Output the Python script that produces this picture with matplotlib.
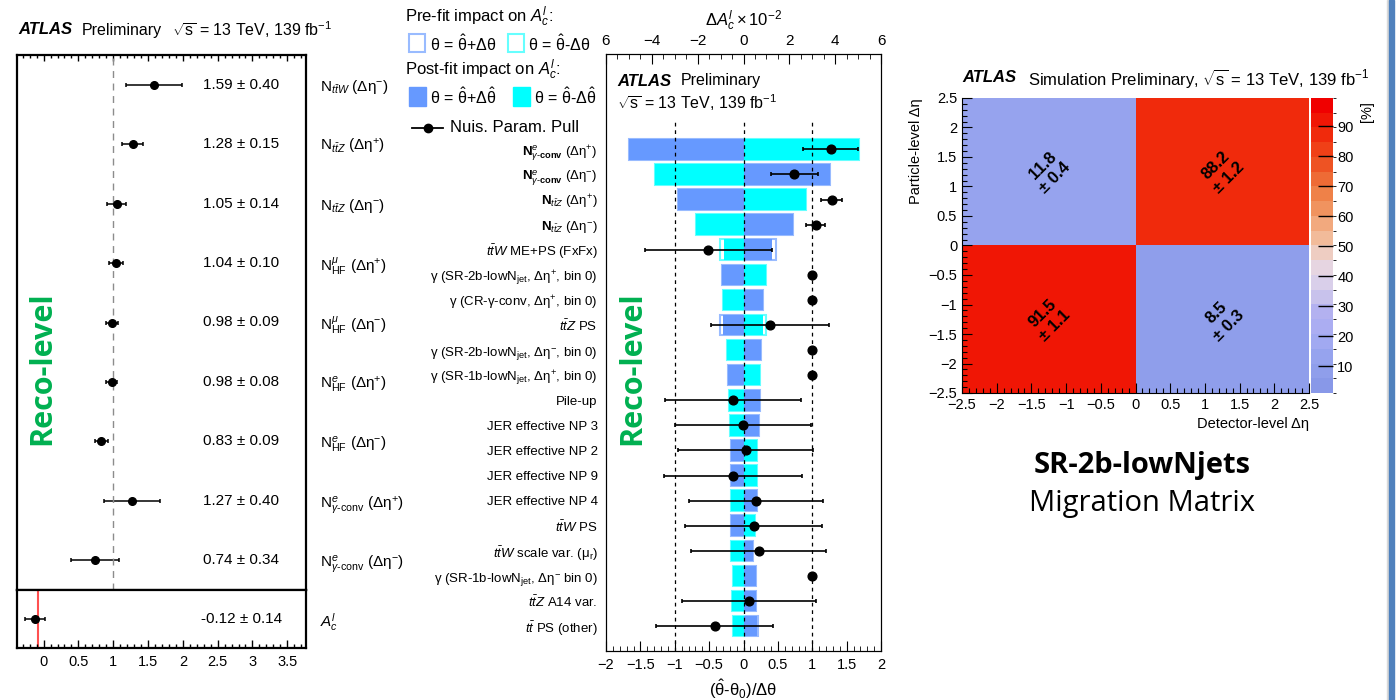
import numpy as np
import matplotlib
matplotlib.use('Agg')
import matplotlib.pyplot as plt
from matplotlib.colors import LinearSegmentedColormap, BoundaryNorm
from matplotlib.patches import Rectangle
from matplotlib.ticker import MultipleLocator, FuncFormatter

plt.rcParams['font.family'] = ['Liberation Sans', 'DejaVu Sans']
plt.rcParams['mathtext.fontset'] = 'custom'
plt.rcParams['mathtext.rm'] = 'Liberation Sans'
plt.rcParams['mathtext.it'] = 'Liberation Sans:italic'
plt.rcParams['mathtext.bf'] = 'Liberation Sans:bold'
plt.rcParams['mathtext.sf'] = 'Liberation Sans'

## Data

# left panel: normalisation factors + A_c
nf_labels = [r'N$_{t\bar{t}W}$ (Δη$^{-}$)',
             r'N$_{t\bar{t}Z}$ (Δη$^{+}$)',
             r'N$_{t\bar{t}Z}$ (Δη$^{-}$)',
             r'N$^{\mu}_{\rm HF}$ (Δη$^{+}$)',
             r'N$^{\mu}_{\rm HF}$ (Δη$^{-}$)',
             r'N$^{e}_{\rm HF}$ (Δη$^{+}$)',
             r'N$^{e}_{\rm HF}$ (Δη$^{-}$)',
             r'N$^{e}_{\gamma\text{-}\rm conv}$ (Δη$^{+}$)',
             r'N$^{e}_{\gamma\text{-}\rm conv}$ (Δη$^{-}$)']
nf_vals = [1.59, 1.28, 1.05, 1.04, 0.98, 0.98, 0.83, 1.27, 0.74]
nf_errs = [0.40, 0.15, 0.14, 0.10, 0.09, 0.08, 0.09, 0.40, 0.34]
ac_label = r'$A^{l}_{c}$'
ac_val = -0.12
ac_err = 0.14
ac_sm = -0.084

# middle panel: ranking of nuisance parameters
np_labels = [r'$\mathbf{N}^{e}_{\gamma\text{-}\mathbf{conv}}$ (Δη$^{+}$)',
             r'$\mathbf{N}^{e}_{\gamma\text{-}\mathbf{conv}}$ (Δη$^{-}$)',
             r'$\mathbf{N}_{t\bar{t}Z}$ (Δη$^{+}$)',
             r'$\mathbf{N}_{t\bar{t}Z}$ (Δη$^{-}$)',
             r'$t\bar{t}W$ ME+PS (FxFx)',
             r'γ (SR-2b-lowN$_{\rm jet}$, Δη$^{+}$, bin 0)',
             r'γ (CR-γ-conv, Δη$^{+}$, bin 0)',
             r'$t\bar{t}Z$ PS',
             r'γ (SR-2b-lowN$_{\rm jet}$, Δη$^{-}$, bin 0)',
             r'γ (SR-1b-lowN$_{\rm jet}$, Δη$^{+}$, bin 0)',
             'Pile-up',
             'JER effective NP 3',
             'JER effective NP 2',
             'JER effective NP 9',
             'JER effective NP 4',
             r'$t\bar{t}W$ PS',
             r'$t\bar{t}W$ scale var. (μ$_{\rm r}$)',
             r'γ (SR-1b-lowN$_{\rm jet}$, Δη$^{-}$ bin 0)',
             r'$t\bar{t}Z$ A14 var.',
             r'$t\bar{t}$ PS (other)']
pull = [1.27, 0.74, 1.28, 1.05, -0.51, 1.0, 1.0, 0.39, 1.0, 1.0,
        -0.15, -0.01, 0.03, -0.155, 0.185, 0.146, 0.22, 1.0, 0.08, -0.42]
pull_err = [0.40, 0.34, 0.15, 0.14, 0.92, 0.02, 0.02, 0.86, 0.02, 0.02,
            0.99, 0.99, 0.985, 1.0, 0.975, 0.99, 0.98, 0.02, 0.97, 0.855]
# impacts on A_c in units of 1e-2
post_up = [-5.0, 3.78, -2.85, 2.16, 1.25, -0.92, 0.86, -0.88, 0.77, -0.66,
           0.70, 0.66, -0.53, -0.53, 0.60, -0.53, 0.41, 0.54, 0.54, 0.57]
post_down = [5.05, -3.85, 2.74, -2.07, -0.84, 0.96, -0.88, 0.85, -0.73, 0.71,
             -0.64, -0.57, 0.61, 0.60, -0.53, 0.51, -0.53, -0.48, -0.51, -0.44]
pre_up = [-5.0, 3.78, -2.85, 2.16, 1.43, -0.92, 0.86, -1.04, 0.77, -0.66,
          0.70, 0.66, -0.53, -0.53, 0.60, -0.53, 0.41, 0.54, 0.54, 0.62]
pre_down = [5.05, -3.85, 2.74, -2.07, -1.04, 0.96, -0.88, 0.99, -0.73, 0.71,
            -0.64, -0.57, 0.61, 0.60, -0.53, 0.51, -0.53, -0.48, -0.51, -0.44]
imp_ticks = [-6, -4, -2, 0, 2, 4, 6]
imp_ticklabels = ['6', '\u22124', '\u22122', '0', '2', '4', '6']

# right panel: migration matrix, rows = particle level (-, +), cols = detector level (-, +)
eta_edges = [-2.5, 0.0, 2.5]
mig = [[91.5, 8.5], [11.8, 88.2]]
mig_err = [[1.1, 0.3], [0.4, 1.2]]

W, H = 1396, 700


def box(x0, y0, x1, y1):
    # pixel box -> figure fraction
    return [x0 / W, 1 - y1 / H, (x1 - x0) / W, (y1 - y0) / H]


def fmt(v, pos):
    return ('%g' % v).replace('-', '\u2212')


fig = plt.figure(figsize=(W / 100, H / 100), dpi=100)

# overlay for free text / legend
lay = fig.add_axes([0, 0, 1, 1])
lay.set_xlim(0, W)
lay.set_ylim(H, 0)
lay.axis('off')
lay.set_zorder(5)

## Left panel
ax1 = fig.add_axes(box(17, 55, 306, 590))
ax1b = fig.add_axes(box(17, 590, 306, 648), sharex=ax1)
y1 = np.arange(len(nf_vals))[::-1]
ax1.errorbar(nf_vals, y1, xerr=nf_errs, fmt='o', color='k', ms=5.5,
             elinewidth=1.1, capsize=1.6, capthick=1.1)
ax1.axvline(1, color='#8c8c8c', ls=(0, (5, 4)), lw=1)
ax1.set_xlim(-0.382, 3.769)
ax1.set_ylim(-0.5, len(nf_vals) - 0.5)
for y, v, e in zip(y1, nf_vals, nf_errs):
    ax1.text(2.84, y, '%.2f ± %.2f' % (v, e), ha='center', va='center', fontsize=11)
ax1.yaxis.tick_right()
ax1.set_yticks(y1)
ax1.set_yticklabels(nf_labels, fontsize=11)
ax1.tick_params(axis='y', length=0, pad=10)
ax1.xaxis.set_major_locator(MultipleLocator(0.5))
ax1.xaxis.set_minor_locator(MultipleLocator(0.1))
ax1.xaxis.set_major_formatter(FuncFormatter(fmt))
ax1.tick_params(axis='x', which='both', direction='in', top=True, bottom=False,
                labeltop=False, labelbottom=False, width=1)
ax1.tick_params(axis='x', which='major', length=4)
ax1.tick_params(axis='x', which='minor', length=2)

ax1b.errorbar([ac_val], [0], xerr=[ac_err], fmt='o', color='k', ms=5.5,
              elinewidth=1.1, capsize=1.6, capthick=1.1, zorder=3)
ax1b.axvline(ac_sm, color='#ff5050', lw=1.5, zorder=1)
ax1b.set_ylim(-0.5, 0.5)
ax1b.text(2.84, 0, '%.2f ± %.2f' % (ac_val, ac_err), ha='center', va='center', fontsize=11)
ax1b.yaxis.tick_right()
ax1b.set_yticks([0])
ax1b.set_yticklabels([ac_label], fontsize=11)
ax1b.tick_params(axis='y', length=0, pad=10)
ax1b.tick_params(axis='x', which='both', direction='in', top=False, bottom=True,
                 labelsize=10.5, width=1)
ax1b.tick_params(axis='x', which='major', length=6, pad=5)
ax1b.tick_params(axis='x', which='minor', length=3)
for a in (ax1, ax1b):
    for s in a.spines.values():
        s.set_linewidth(1.6)

## Middle panel (ranking)
axi = fig.add_axes(box(606, 54, 881, 651))
axp = axi.twiny()
yy = np.arange(len(pull))[::-1]
axi.barh(yy, pre_up, height=0.82, facecolor='white', edgecolor='#99bbff', lw=1.5)
axi.barh(yy, pre_down, height=0.82, facecolor='white', edgecolor='#66ffff', lw=1.5)
axi.barh(yy, post_up, height=0.82, color='#6699ff')
axi.barh(yy, post_down, height=0.82, color='#00ffff')
axi.set_xlim(-6, 6)
axi.set_ylim(-0.99, 22.8)
axi.set_xticks(imp_ticks)
axi.set_xticklabels(imp_ticklabels)
axi.xaxis.set_minor_locator(MultipleLocator(0.5))
axi.xaxis.set_ticks_position('top')
axi.xaxis.set_label_position('top')
axi.set_xlabel(r'$\Delta A^{l}_{c}\times10^{-2}$', fontsize=12, labelpad=6)
axi.tick_params(axis='x', which='both', direction='in', top=True, bottom=False,
                labeltop=True, labelbottom=False, labelsize=11, pad=4)
axi.tick_params(axis='x', which='major', length=7)
axi.tick_params(axis='x', which='minor', length=3.5)
axi.set_yticks(yy)
axi.set_yticklabels(np_labels, fontsize=9.5)
axi.tick_params(axis='y', length=0, pad=6)

axp.set_xlim(-2, 2)
axp.vlines([-1, 0, 1], -0.99, 20.1, colors='k', linestyles=(0, (3, 3)), lw=0.9)
axp.errorbar(pull, yy, xerr=pull_err, fmt='o', color='k', ms=6.3,
             elinewidth=1.2, capsize=1.5, capthick=1.2)
axp.xaxis.set_ticks_position('bottom')
axp.xaxis.set_label_position('bottom')
axp.xaxis.set_major_locator(MultipleLocator(0.5))
axp.xaxis.set_minor_locator(MultipleLocator(0.1))
axp.xaxis.set_major_formatter(FuncFormatter(fmt))
axp.tick_params(axis='x', which='both', direction='in', top=False, bottom=True,
                labeltop=False, labelbottom=True, labelsize=10.5, pad=5)
axp.tick_params(axis='x', which='major', length=7)
axp.tick_params(axis='x', which='minor', length=3.5)
axp.set_xlabel(r'($\hat{\rm θ}$-θ$_{0}$)/Δθ', fontsize=12, labelpad=4)

# legend
lay.text(405, 17, r'Pre-fit impact on $A^{l}_{c}$:', fontsize=12, va='center')
lay.add_patch(Rectangle((409, 34), 16, 18, facecolor='white', edgecolor='#99bbff', lw=1.5))
lay.text(430, 44, r'θ = $\hat{\rm θ}$+Δθ', fontsize=11.5, va='center')
lay.add_patch(Rectangle((508, 34), 16, 18, facecolor='white', edgecolor='#66ffff', lw=1.5))
lay.text(528, 44, r'θ = $\hat{\rm θ}$-Δθ', fontsize=11.5, va='center')
lay.text(405, 70, r'Post-fit impact on $A^{l}_{c}$:', fontsize=12, va='center')
lay.add_patch(Rectangle((409, 87), 17, 19, color='#6699ff'))
lay.text(430, 97, r'θ = $\hat{\rm θ}$+Δ$\hat{\rm θ}$', fontsize=11.5, va='center')
lay.add_patch(Rectangle((513, 87), 17, 19, color='#00ffff'))
lay.text(534, 97, r'θ = $\hat{\rm θ}$-Δ$\hat{\rm θ}$', fontsize=11.5, va='center')
lay.plot([412, 443], [128, 128], color='k', lw=1.3)
lay.plot([428], [128], 'o', color='k', ms=6)
lay.text(450, 127, 'Nuis. Param. Pull', fontsize=12, va='center')

# ATLAS labels
lay.text(18, 30, 'ATLAS', fontsize=12, fontweight='bold', fontstyle='italic', va='center')
lay.text(82, 30, 'Preliminary', fontsize=11.5, va='center')
lay.text(172, 30, r'$\sqrt{\rm s}$ = 13 TeV, 139 fb$^{-1}$', fontsize=11.5, va='center')
lay.text(617, 81, 'ATLAS', fontsize=12, fontweight='bold', fontstyle='italic', va='center')
lay.text(681, 81, 'Preliminary', fontsize=11.5, va='center')
lay.text(617, 103, r'$\sqrt{\rm s}$ = 13 TeV, 139 fb$^{-1}$', fontsize=11.5, va='center')

for x in (42, 632):
    lay.text(x, 368, 'Reco-level', rotation=90, color='#00b050', fontsize=22,
             fontweight='bold', family='Open Sans', ha='center', va='center')

## Right panel (migration matrix)
ax3 = fig.add_axes(box(962, 98, 1309, 393))
cm_pos = [0.0, 0.09, 0.19, 0.27, 0.33, 0.40, 0.45, 0.50, 0.57, 0.63, 0.70, 0.77, 0.85, 0.92, 1.0]
cm_cols = ['#8898e8', '#94a2ee', '#a8acf2', '#b4b2f0', '#d0c8ea', '#e2d6ea', '#ecd4d4',
           '#f2c4a8', '#f2ac82', '#f09460', '#ee7a40', '#ee5a28', '#f03c14', '#f02008', '#f00000']
cmap = LinearSegmentedColormap.from_list('mig', list(zip(cm_pos, cm_cols)))
levels = np.linspace(1.0, 99.5, 21)
norm = BoundaryNorm(levels, cmap.N)
mesh = ax3.pcolormesh(eta_edges, eta_edges, mig, cmap=cmap, norm=norm)
centers = [(eta_edges[i] + eta_edges[i + 1]) / 2 for i in range(len(eta_edges) - 1)]
for r in range(len(centers)):
    for c in range(len(centers)):
        ax3.text(centers[c], centers[r], '%.1f\n± %.1f' % (mig[r][c], mig_err[r][c]),
                 rotation=45, ha='center', va='center', fontsize=12,
                 fontweight='bold', linespacing=1.2)
ax3.set_xlim(-2.5, 2.5)
ax3.set_ylim(-2.5, 2.5)
for axis in (ax3.xaxis, ax3.yaxis):
    axis.set_major_locator(MultipleLocator(0.5))
    axis.set_minor_locator(MultipleLocator(0.1))
    axis.set_major_formatter(FuncFormatter(fmt))
ax3.tick_params(which='both', direction='in', top=False, right=False, labelsize=10.5, width=0.8)
ax3.tick_params(which='major', length=7)
ax3.tick_params(which='minor', length=3.5)
ax3.spines['top'].set_visible(False)
ax3.spines['right'].set_visible(False)
ax3.set_xlabel('Detector-level Δη', loc='right', fontsize=10.5, labelpad=4)
ax3.set_ylabel('Particle-level Δη', loc='top', fontsize=10.5, labelpad=4)

cax = fig.add_axes(box(1311, 98, 1333, 393))
cb = fig.colorbar(mesh, cax=cax, ticks=np.arange(10, 100, 10))
cb.outline.set_visible(False)
cax.tick_params(direction='in', length=11, width=1, labelsize=10.5, pad=3)
lay.text(1367, 112, '[%]', rotation=90, fontsize=10.5, ha='center', va='center')

lay.text(962, 78, 'ATLAS', fontsize=12, fontweight='bold', fontstyle='italic', va='center')
lay.text(1028, 78, r'Simulation Preliminary, $\sqrt{\rm s}$ = 13 TeV, 139 fb$^{-1}$',
         fontsize=12, va='center')

lay.text(1142, 466, 'SR-2b-lowNjets', family='Open Sans', fontweight='bold', fontsize=21,
         ha='center', va='center')
lay.text(1142, 503, 'Migration Matrix', family='Open Sans', fontsize=21,
         ha='center', va='center')

# slide edge
lay.add_patch(Rectangle((1386.5, 0), 2.5, H, color='#d9d9d9'))
lay.add_patch(Rectangle((1389, 0), 5, H, color='#4f81bd'))

plt.savefig('out.png', dpi=100)
